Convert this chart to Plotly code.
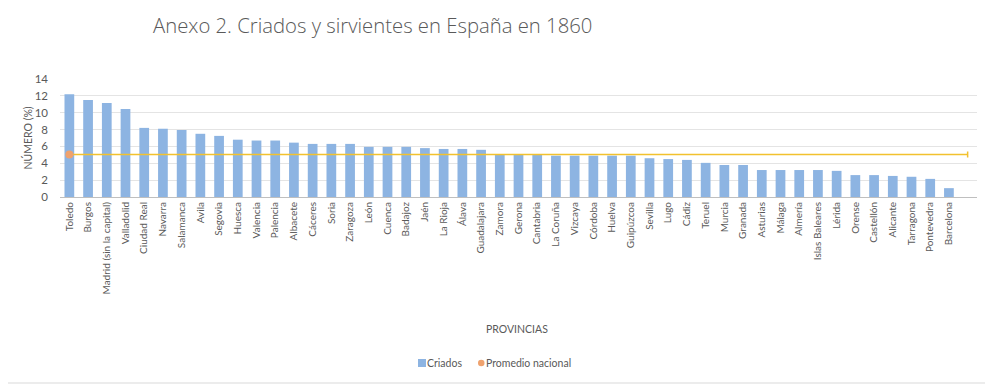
import plotly.graph_objects as go

provincias = ["Toledo", "Burgos", "Madrid (sin la capital)", "Valladolid", "Ciudad Real", "Navarra",
              "Salamanca", "Avila", "Segovia", "Huesca", "Valencia", "Palencia", "Albacete", "Cáceres",
              "Soria", "Zaragoza", "León", "Cuenca", "Badajoz", "Jaén", "La Rioja", "Álava",
              "Guadalajara", "Zamora", "Gerona", "Cantabria", "La Coruña", "Vizcaya", "Córdoba",
              "Huelva", "Guipúzcoa", "Sevilla", "Lugo", "Cádiz", "Teruel", "Murcia", "Granada",
              "Asturias", "Málaga", "Almería", "Islas Baleares", "Lérida", "Orense", "Castellón",
              "Alicante", "Tarragona", "Pontevedra", "Barcelona"]

criados = [12.2, 11.5, 11.15, 10.45, 8.2, 8.1, 7.95, 7.5, 7.25, 6.8, 6.7, 6.7, 6.45, 6.3,
           6.3, 6.3, 5.95, 5.95, 5.95, 5.8, 5.7, 5.7, 5.6, 5.05, 5.05, 5.05, 4.9, 4.9, 4.9,
           4.9, 4.9, 4.6, 4.5, 4.4, 4.05, 3.8, 3.8, 3.2, 3.2, 3.2, 3.2, 3.1, 2.6, 2.6,
           2.5, 2.4, 2.15, 1.05]

promedio_nacional = 5.05

y_ticks = [0, 2, 4, 6, 8, 10, 12, 14]

TXT = "#595959"
FONT = "Lato"
BAR_COLOR = "#8DB4E2"
DOT_COLOR = "#EFA26E"
LINE_COLOR = "#F2C12E"

# The page body has an 8px margin, so the figure is sized/positioned to compensate.
W, H = 985, 377
OFF = 8
PL, PR, PT, PB = 60, 977, 79, 197  # plot area in window pixels


def px(xw):
    return (xw - PL) / (PR - PL)


def py(yw):
    return (PB - yw) / (PB - PT)


idx = list(range(len(provincias)))

fig = go.Figure()
fig.add_trace(go.Bar(
    x=idx, y=criados, name="Criados", width=0.52,
    marker=dict(color=BAR_COLOR, line=dict(width=0)),
))
fig.add_trace(go.Scatter(
    x=[0], y=[promedio_nacional], name="Promedio nacional", mode="markers",
    marker=dict(color=DOT_COLOR, size=8),
    error_x=dict(type="data", symmetric=False, array=[len(provincias)], arrayminus=[0],
                 color=LINE_COLOR, thickness=1.5, width=3),
))

fig.update_layout(
    width=W, height=H,
    margin=dict(l=PL - OFF, r=W - (PR - OFF), t=PT - OFF, b=H - (PB - OFF), autoexpand=False),
    paper_bgcolor="white", plot_bgcolor="white",
    font=dict(family=FONT, color=TXT, size=11),
    title=dict(text="Anexo 2. Criados y sirvientes en España en 1860",
               x=(153 - OFF) / W, xanchor="left", xref="container",
               y=1 - (26 - OFF) / H, yanchor="middle", yref="container",
               font=dict(family="Open Sans", size=20.3, color=TXT, weight=300)),
    showlegend=False,
    bargap=0.45,
)
fig.update_xaxes(
    range=[-0.5, len(provincias) + 0.5],
    tickmode="array", tickvals=idx, ticktext=provincias, tickangle=-90,
    tickfont=dict(size=10, color=TXT, family=FONT),
    showgrid=False, showline=True, linecolor="#BFBFBF", linewidth=1,
    ticks="", zeroline=False, automargin=False,
)
fig.update_yaxes(
    range=[0, 14], tickmode="array", tickvals=y_ticks,
    tickfont=dict(size=11.5, color=TXT, family=FONT),
    showgrid=True, gridcolor="#E4E4E4", gridwidth=1,
    zeroline=False, showline=False, ticks="", ticklabelstandoff=11, automargin=False,
)
fig.add_annotation(text="NÚMERO (%)", textangle=-90, xref="paper", yref="paper",
                   x=px(27), y=py(138.5), showarrow=False,
                   xanchor="center", yanchor="middle", font=dict(size=10.5, color=TXT))
fig.add_annotation(text="PROVINCIAS", xref="paper", yref="paper",
                   x=px(517), y=py(329), showarrow=False,
                   xanchor="center", yanchor="middle", font=dict(size=10.5, color=TXT))

# legend (drawn to match the reference's compact layout)
fig.add_shape(type="rect", xref="paper", yref="paper",
              x0=px(418), x1=px(426), y0=py(367), y1=py(359),
              line=dict(width=0), fillcolor=BAR_COLOR)
fig.add_annotation(text="Criados", xref="paper", yref="paper", x=px(425), y=py(363),
                   showarrow=False, xanchor="left", yanchor="middle",
                   font=dict(size=10.5, color=TXT))
fig.add_shape(type="circle", xref="paper", yref="paper",
              x0=px(478), x1=px(484.5), y0=py(366.2), y1=py(359.8),
              line=dict(width=0), fillcolor=DOT_COLOR)
fig.add_annotation(text="Promedio nacional", xref="paper", yref="paper", x=px(483.5), y=py(363),
                   showarrow=False, xanchor="left", yanchor="middle",
                   font=dict(size=10.5, color=TXT))

# chart-area border (right and bottom edges fall inside the figure)
fig.add_shape(type="rect", xref="paper", yref="paper",
              x0=px(2), x1=px(986), y0=py(383), y1=py(1.5),
              line=dict(color="#D9D9D9", width=1), fillcolor="rgba(0,0,0,0)", layer="below")

fig.write_html("out.html")
